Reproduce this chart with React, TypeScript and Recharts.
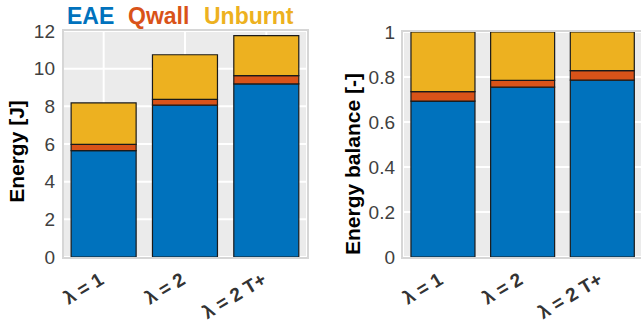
import React from 'react';
import { BarChart, Bar, XAxis, YAxis, CartesianGrid } from 'recharts';

// Cases compared in both panels
const categories = ['λ = 1', 'λ = 2', 'λ = 2 T+'];

// Absolute energy split [J]
const eaeEnergy = [5.65, 8.06, 9.19];
const qwallEnergy = [0.33, 0.31, 0.44];
const unburntEnergy = [2.2, 2.37, 2.12];

// Normalised energy balance [-]
const eaeShare = [0.693, 0.755, 0.786];
const qwallShare = [0.042, 0.03, 0.042];
const unburntShare = [0.265, 0.215, 0.172];

const energyTicks = [0, 2, 4, 6, 8, 10, 12];
const balanceTicks = [0, 0.2, 0.4, 0.6, 0.8, 1];

const seriesNames = ['EAE', 'Qwall', 'Unburnt'];
const seriesColors = ['#0072BD', '#D95319', '#EDB120'];

const FONT = '"Liberation Sans", Arial, Helvetica, sans-serif';

const energyData = categories.map((c, i) => ({
  name: c,
  EAE: eaeEnergy[i],
  Qwall: qwallEnergy[i],
  Unburnt: unburntEnergy[i],
}));

const balanceData = categories.map((c, i) => ({
  name: c,
  EAE: eaeShare[i],
  Qwall: qwallShare[i],
  Unburnt: unburntShare[i],
}));

const CategoryTick = (props: any) => {
  const { x, y, payload } = props;
  return (
    <g transform={`translate(${x + 1.5},${y + 26})`}>
      <text
        textAnchor="end"
        transform="rotate(-31)"
        fontFamily={FONT}
        fontWeight="bold"
        fontSize={19}
        fill="#333333"
      >
        {payload.value}
      </text>
    </g>
  );
};

const axisTitle = (text: string, x: number, cy: number) => (props: any) => (
  <text
    x={x}
    y={cy}
    transform={`rotate(-90, ${x}, ${cy})`}
    textAnchor="middle"
    fontFamily={FONT}
    fontWeight="bold"
    fontSize={21}
    fill="#000000"
  >
    {text}
  </text>
);

const legendPositions = [67, 128, 204];

const Frame = ({ left, top, width, height }: any) => (
  <div
    style={{
      position: 'absolute',
      left,
      top,
      width,
      height,
      border: '2px solid #d6d6d6',
      boxSizing: 'border-box',
      pointerEvents: 'none',
    }}
  />
);

const renderBars = () =>
  seriesNames.map((s, i) => (
    <Bar
      key={s}
      dataKey={s}
      stackId="a"
      fill={seriesColors[i]}
      stroke="#1a1a1a"
      strokeWidth={1.2}
      isAnimationActive={false}
    />
  ));

export default function App() {
  return (
    <div
      style={{
        position: 'absolute',
        left: 0,
        top: 0,
        width: 641,
        height: 332,
        overflow: 'hidden',
        background: '#ffffff',
        fontFamily: FONT,
      }}
    >
      {/* series key above the left panel */}
      <svg width={320} height={30} style={{ position: 'absolute', left: 0, top: 0 }}>
        {seriesNames.map((s, i) => (
          <text
            key={s}
            x={legendPositions[i]}
            y={24}
            fontFamily={FONT}
            fontWeight="bold"
            fontSize={23}
            fill={seriesColors[i]}
          >
            {s}
          </text>
        ))}
      </svg>

      <div style={{ position: 'absolute', left: 0, top: 0 }}>
        <BarChart
          width={320}
          height={332}
          data={energyData}
          margin={{ top: 31, right: 13, bottom: 0, left: 0 }}
          barCategoryGap="10%"
        >
          <CartesianGrid fill="#ebebeb" stroke="#ffffff" strokeWidth={2} />
          <XAxis
            dataKey="name"
            interval={0}
            tickLine={false}
            axisLine={false}
            tickSize={0}
            tickMargin={0}
            height={75}
            tick={<CategoryTick />}
          />
          <YAxis
            width={63}
            domain={[0, 12]}
            ticks={energyTicks}
            tickLine={false}
            axisLine={false}
            tick={{ fontSize: 19, fill: '#404040', fontFamily: FONT }}
            label={{ content: axisTitle('Energy [J]', 23.5, 151.5) }}
          />
          {renderBars()}
        </BarChart>
      </div>
      <Frame left={62} top={29} width={247} height={230} />

      <div style={{ position: 'absolute', left: 320, top: 0 }}>
        <BarChart
          width={322}
          height={332}
          data={balanceData}
          margin={{ top: 32, right: 0, bottom: 0, left: 0 }}
          barCategoryGap="10%"
        >
          <CartesianGrid fill="#ebebeb" stroke="#ffffff" strokeWidth={2} />
          <XAxis
            dataKey="name"
            interval={0}
            tickLine={false}
            axisLine={false}
            tickSize={0}
            tickMargin={0}
            height={75}
            tick={<CategoryTick />}
          />
          <YAxis
            width={83}
            domain={[0, 1]}
            ticks={balanceTicks}
            tickLine={false}
            axisLine={false}
            tickFormatter={(v: number) => String(v)}
            tick={{ fontSize: 19, fill: '#404040', fontFamily: FONT }}
            label={{ content: axisTitle('Energy balance [-]', 39.5, 164) }}
          />
          {renderBars()}
        </BarChart>
      </div>
      <Frame left={401} top={30} width={245} height={229} />
    </div>
  );
}
